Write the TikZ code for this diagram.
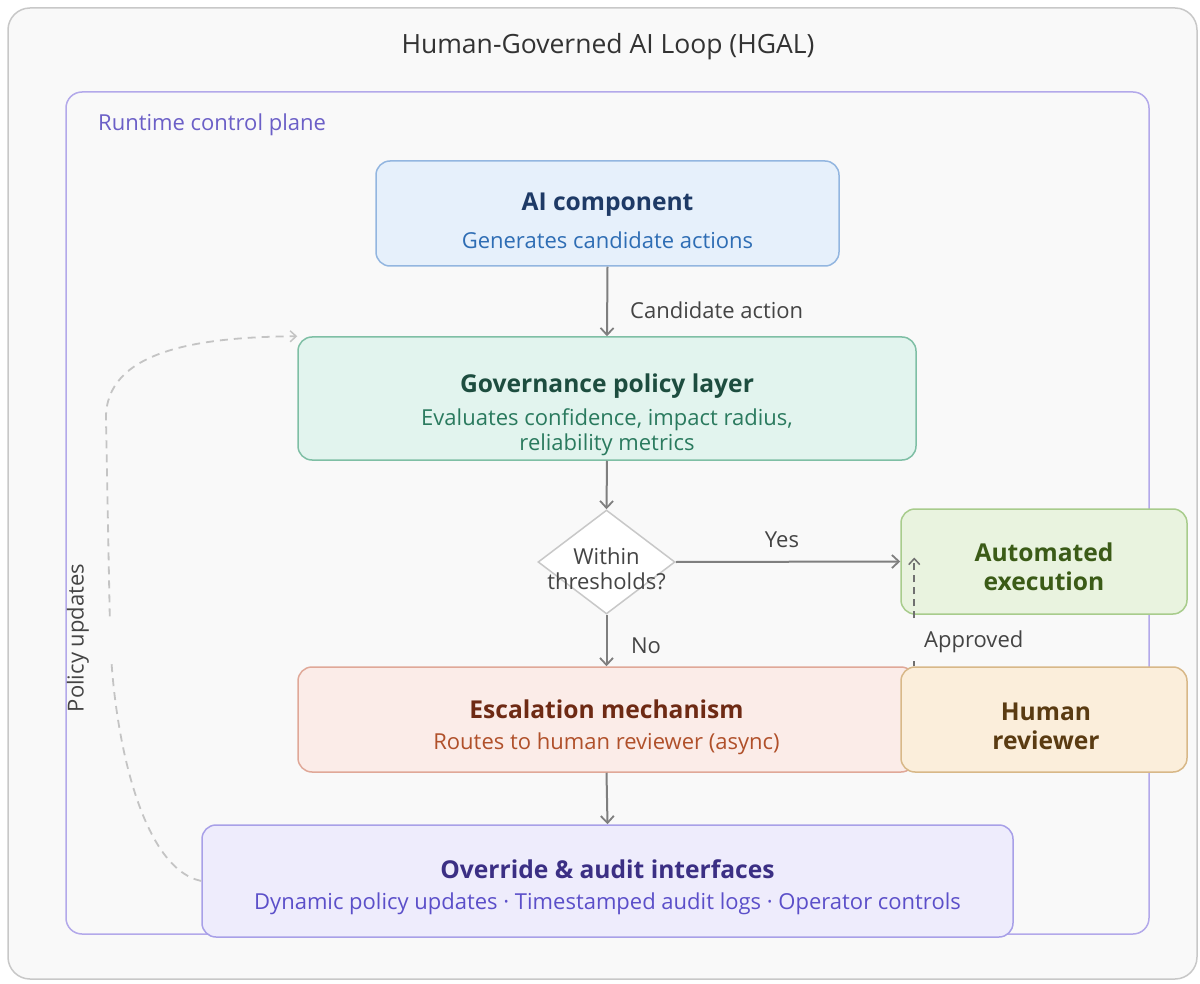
\documentclass[tikz,border=0pt]{standalone}
\usepackage{fontspec}
\setmainfont{Open Sans}
\usetikzlibrary{arrows.meta,shapes.geometric}
\definecolor{pagebg}{HTML}{F9F9F9}
\definecolor{framegray}{HTML}{C8C8C8}
\definecolor{planeline}{HTML}{B3A9EA}
\definecolor{planetext}{HTML}{6B5FC7}
\definecolor{titletext}{HTML}{333333}
\definecolor{edgetext}{HTML}{444444}
\definecolor{arrowgray}{HTML}{7F7F7F}
\definecolor{aifill}{HTML}{E6F0FB}
\definecolor{aidraw}{HTML}{93B6E0}
\definecolor{aihead}{HTML}{1E3A66}
\definecolor{aisub}{HTML}{2E6DB4}
\definecolor{govfill}{HTML}{E2F4EE}
\definecolor{govdraw}{HTML}{7FBFA5}
\definecolor{govhead}{HTML}{1D4D3F}
\definecolor{govsub}{HTML}{2A7A5E}
\definecolor{autofill}{HTML}{E9F3DF}
\definecolor{autodraw}{HTML}{A8CC8C}
\definecolor{autohead}{HTML}{3B5B17}
\definecolor{escfill}{HTML}{FBECE8}
\definecolor{escdraw}{HTML}{E0A898}
\definecolor{eschead}{HTML}{6E2A14}
\definecolor{escsub}{HTML}{B0502A}
\definecolor{humfill}{HTML}{FBEEDB}
\definecolor{humdraw}{HTML}{D8B888}
\definecolor{humhead}{HTML}{5A3B12}
\definecolor{ovrfill}{HTML}{EEECFC}
\definecolor{ovrdraw}{HTML}{A8A0E8}
\definecolor{ovrhead}{HTML}{3B2F84}
\definecolor{ovrsub}{HTML}{5B4FC9}
\definecolor{policygray}{HTML}{C4C4C4}
\definecolor{approvegray}{HTML}{707070}
\newcommand{\headfont}{\fontsize{24.6}{29}\selectfont\bfseries}
\newcommand{\subfont}{\fontsize{22}{25}\selectfont}
\begin{document}
\begin{tikzpicture}[x=1pt,y=-1pt,
  box/.style={rectangle, rounded corners=14pt, line width=1.5pt, align=center, inner sep=0pt},
  arr/.style={draw=arrowgray, line width=2pt, -{Straight Barb[length=7pt,width=13pt,line width=1.8pt]}},
  edgelabel/.style={text=edgetext, font=\subfont, inner sep=0pt},
]
\useasboundingbox (0,0) rectangle (1200,984);
\fill[white] (0,0) rectangle (1200,984);
\draw[rounded corners=22pt, draw=framegray, line width=1.5pt, fill=pagebg] (8,8) rectangle (1197,979);
\node[text=titletext, font=\fontsize{26.5}{30}\selectfont, inner sep=0pt] (title) at (608,47) {Human-Governed AI Loop (HGAL)};
\draw[rounded corners=16pt, draw=planeline, line width=1.5pt, fill=pagebg] (66,92) rectangle (1149,934);
\node[text=planetext, font=\subfont, anchor=west, inner sep=0pt] (plane) at (98,125) {Runtime control plane};

\node[box, fill=aifill, draw=aidraw, minimum width=463pt, minimum height=105pt] (ai) at (607.5,213.5) {};
\node[text=aihead, font=\headfont, inner sep=0pt] (aiT) at (607.5,205) {AI component};
\node[text=aisub, font=\subfont, inner sep=0pt] (aiS) at (607.5,240) {Generates candidate actions};

\node[box, fill=govfill, draw=govdraw, minimum width=618pt, minimum height=123pt] (gov) at (607,398.5) {};
\node[text=govhead, font=\headfont, inner sep=0pt] (govT) at (607,386) {Governance policy layer};
\node[text=govsub, font=\subfont, align=center, inner sep=0pt] (govS) at (607,432) {Evaluates confidence, impact radius,\\reliability metrics};

\node[diamond, draw=framegray, line width=1.5pt, fill=white, minimum width=137pt, minimum height=104pt, inner sep=0pt] (dia) at (606.5,562) {};
\node[text=edgetext, font=\subfont, align=center, inner sep=0pt] (diaT) at (606.5,569) {Within\\thresholds?};

\node[box, fill=autofill, draw=autodraw, minimum width=286pt, minimum height=105pt] (auto) at (1044,561.5) {};
\node[text=autohead, font=\headfont, align=center, inner sep=0pt] (autoT) at (1044,567) {Automated\\execution};

\node[box, fill=escfill, draw=escdraw, minimum width=617pt, minimum height=105pt] (esc) at (606.5,719.5) {};
\node[text=eschead, font=\headfont, inner sep=0pt] (escT) at (606.5,709) {Escalation mechanism};
\node[text=escsub, font=\subfont, inner sep=0pt] (escS) at (606.5,744) {Routes to human reviewer (async)};

\node[box, fill=humfill, draw=humdraw, minimum width=286pt, minimum height=105pt] (hum) at (1044,719.5) {};
\node[text=humhead, font=\headfont, align=center, inner sep=0pt] (humT) at (1046,726) {Human\\reviewer};

\node[box, fill=ovrfill, draw=ovrdraw, minimum width=811pt, minimum height=112pt] (ovr) at (607.5,881) {};
\node[text=ovrhead, font=\headfont, inner sep=0pt] (ovrT) at (607.5,869) {Override \& audit interfaces};
\node[text=ovrsub, font=\subfont, inner sep=0pt] (ovrS) at (607.5,904) {Dynamic policy updates · Timestamped audit logs · Operator controls};

% connectors
\draw[arr] (ai.south) -- (gov.north);
\node[edgelabel, anchor=west] (lCand) at (630,310) {Candidate action};
\draw[arr] (gov.south) -- (dia.north);
\draw[arr] (dia.east) -- (auto.west);
\node[edgelabel] (lYes) at (782,540) {Yes};
\draw[arr] (dia.south) -- (esc.north);
\node[edgelabel] (lNo) at (646,646) {No};
\coordinate (apS) at ([xshift=14pt]hum.north west);
\coordinate (apE) at ([xshift=14pt,yshift=4pt]auto.west);
\draw[draw=approvegray, line width=1.6pt, dash pattern=on 7pt off 5pt, -{Straight Barb[length=6pt,width=11pt,line width=1.5pt]}] (apS) -- (apE);
\fill[pagebg] (906,622) rectangle (924,661);
\node[edgelabel, anchor=west] (lApp) at (924,642) {Approved};
\draw[arr] (esc.south) -- (ovr.north);
\draw[draw=policygray, line width=1.8pt, dash pattern=on 8pt off 6pt, -{Straight Barb[length=6pt,width=11pt,line width=1.5pt]}]
  (ovr.west) .. controls (140,868) and (112,730) .. (110,630) -- (106,420) .. controls (104,350) and (200,337) .. (gov.north west);
\fill[pagebg] (98,622) rectangle (122,660);
\node[edgelabel, rotate=90] (lPol) at (78,638) {Policy updates};
\end{tikzpicture}
\end{document}
